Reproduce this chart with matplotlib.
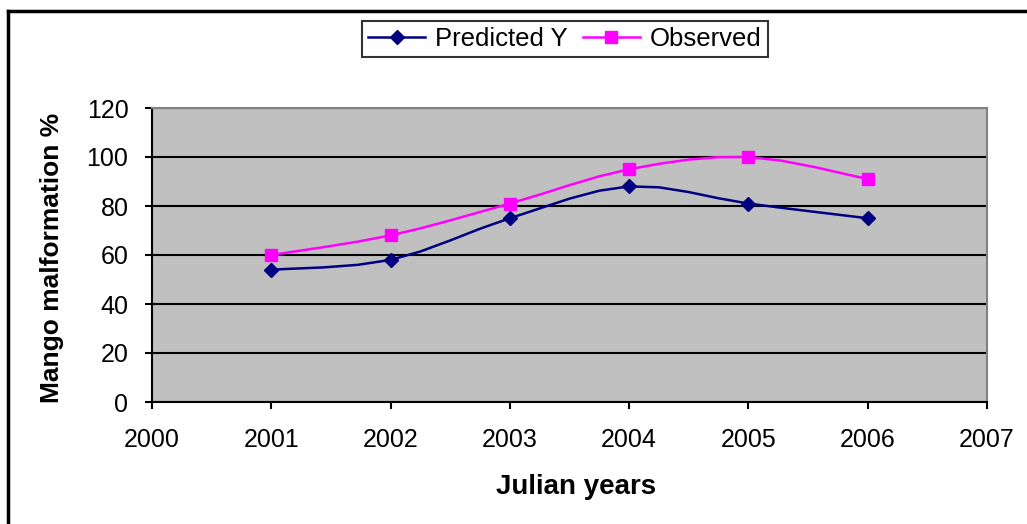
import numpy as np
import matplotlib
matplotlib.use("Agg")
import matplotlib.pyplot as plt
from matplotlib.lines import Line2D

years = [2001, 2002, 2003, 2004, 2005, 2006]
predicted = [54, 58, 75, 88, 81, 75]
observed = [60, 68, 81, 95, 100, 91]
series_names = ["Predicted Y", "Observed"]
x_label = "Julian years"
y_label = "Mango malformation %"

plt.rcParams['font.family'] = ['Liberation Sans', 'DejaVu Sans']

W, H = 1027, 524
fig = plt.figure(figsize=(W / 100, H / 100), dpi=100)
ax = fig.add_axes([152 / W, 1 - 402 / H, (987 - 152) / W, (402 - 108) / H])
ax.set_facecolor('#C0C0C0')


def smooth(xs, ys, n=4):
    xs = np.asarray(xs, float)
    ys = np.asarray(ys, float)
    px = np.concatenate([[xs[0]], xs, [xs[-1]]])
    py = np.concatenate([[ys[0]], ys, [ys[-1]]])
    ox, oy = [], []
    for i in range(1, len(px) - 2):
        for t in np.linspace(0, 1, n, endpoint=False):
            t2, t3 = t * t, t * t * t
            def cr(p):
                return 0.5 * ((2 * p[i]) + (-p[i - 1] + p[i + 1]) * t
                              + (2 * p[i - 1] - 5 * p[i] + 4 * p[i + 1] - p[i + 2]) * t2
                              + (-p[i - 1] + 3 * p[i] - 3 * p[i + 1] + p[i + 2]) * t3)
            ox.append(cr(px))
            oy.append(cr(py))
    ox.append(xs[-1])
    oy.append(ys[-1])
    return np.array(ox), np.array(oy)


for vals, color, marker, ms in [(predicted, '#000080', 'D', 7.5), (observed, '#FF00FF', 's', 8.5)]:
    sx, sy = smooth(years, vals)
    ax.plot(sx, sy, color=color, lw=1.8, zorder=3)
    ax.plot(years, vals, linestyle='none', marker=marker, ms=ms, color=color, zorder=4)

ax.set_xlim(2000, 2007)
ax.set_ylim(0, 120)
ax.set_xticks(range(2000, 2008))
ax.set_yticks(range(0, 121, 20))
ax.yaxis.grid(True, color='black', lw=1.5)
ax.set_axisbelow(True)
for s in ['top', 'right']:
    ax.spines[s].set_color('#808080')
    ax.spines[s].set_linewidth(1.5)
for s in ['left', 'bottom']:
    ax.spines[s].set_color('black')
    ax.spines[s].set_linewidth(1.5)
ax.tick_params(axis='both', direction='out', length=5, width=1.5, color='black', labelsize=18)
ax.tick_params(axis='y', pad=12)
ax.tick_params(axis='x', pad=14)

fig.text(576 / W, 1 - 487 / H, x_label, ha='center', va='center', fontsize=20,
         fontweight='bold')
fig.text(52 / W, 1 - 258 / H, y_label, ha='center', va='center', rotation=90,
         fontsize=19, fontweight='bold')

handles = [Line2D([], [], color='#000080', lw=1.8, marker='D', ms=7.5),
           Line2D([], [], color='#FF00FF', lw=1.8, marker='s', ms=8.5)]
leg = fig.legend(handles, series_names, loc='center', bbox_to_anchor=(565 / W, 1 - 39 / H),
                 ncol=2, fontsize=18.5, frameon=True, fancybox=False, edgecolor='black',
                 handlelength=2.2, handletextpad=0.4, columnspacing=0.6, borderpad=0.25)
leg.get_frame().set_linewidth(1.5)

fig.add_artist(Line2D([8 / W, 1], [1 - 11 / H, 1 - 11 / H], color='black', lw=2.5,
                      transform=fig.transFigure))
fig.add_artist(Line2D([8 / W, 8 / W], [0, 1 - 11 / H], color='black', lw=2.5,
                      transform=fig.transFigure))

fig.savefig('out.png', dpi=100, facecolor='white')
